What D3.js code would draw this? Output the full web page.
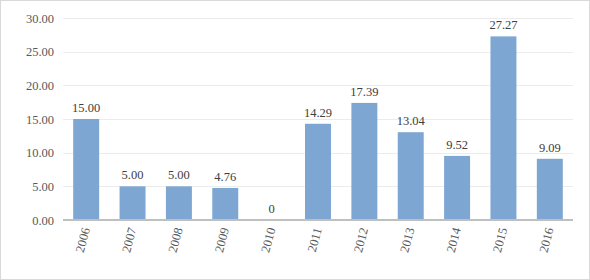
<!DOCTYPE html>
<html><head><meta charset="utf-8">
<script src="https://cdn.jsdelivr.net/npm/d3@7"></script>
<style>
html,body{margin:0;padding:0;background:#fff;}
svg{display:block;}
</style></head>
<body>
<svg id="chart" width="590" height="280"></svg>
<script>
const categories = ["2006","2007","2008","2009","2010","2011","2012","2013","2014","2015","2016"];
const values = [15.00,5.00,5.00,4.76,0,14.29,17.39,13.04,9.52,27.27,9.09];
const valueLabels = ["15.00","5.00","5.00","4.76","0","14.29","17.39","13.04","9.52","27.27","9.09"];
const yTicks = [0,5,10,15,20,25,30];

const svg = d3.select("#chart");
const W = 590, H = 280;
const m = {left: 63, right: 17, top: 18, bottom: 60};
const font = "'Liberation Serif','Times New Roman',serif";

svg.append("rect").attr("x",0.5).attr("y",0.5).attr("width",W-1).attr("height",H-1)
  .attr("fill","#fff").attr("stroke","#d9d9d9");

const x = d3.scaleBand().domain(categories).range([m.left, W-m.right]).paddingInner(0.44).paddingOuter(0.22);
const y = d3.scaleLinear().domain([0,30]).range([H-m.bottom, m.top]);

// gridlines
svg.append("g").selectAll("line").data(yTicks.filter(d=>d>0)).join("line")
  .attr("x1",m.left).attr("x2",W-m.right)
  .attr("y1",d=>Math.round(y(d))+0.5).attr("y2",d=>Math.round(y(d))+0.5)
  .attr("stroke","#ececec").attr("stroke-width",1);

// y axis labels
const yAxis = d3.axisLeft(y).tickValues(yTicks).tickFormat(d3.format(".2f")).tickSize(0).tickPadding(9);
const yg = svg.append("g").attr("transform",`translate(${m.left},0)`).call(yAxis);
yg.select(".domain").remove();
yg.selectAll("text").attr("font-family",font).attr("font-size",12.5).attr("fill","#595959");

// bars
svg.append("g").selectAll("rect").data(values).join("rect")
  .attr("x",(d,i)=>x(categories[i])).attr("width",x.bandwidth())
  .attr("y",d=>y(d)).attr("height",d=>y(0)-y(d))
  .attr("fill","#7ea6d3");

// value labels
svg.append("g").selectAll("text").data(values).join("text")
  .attr("x",(d,i)=>x(categories[i])+x.bandwidth()/2)
  .attr("y",d=>y(d)-7)
  .attr("text-anchor","middle")
  .attr("font-family",font).attr("font-size",12.5).attr("fill","#404040")
  .text((d,i)=>valueLabels[i]);

// x axis
const xAxis = d3.axisBottom(x).tickSize(0).tickPadding(0);
const xg = svg.append("g").attr("transform",`translate(0,${y(0)})`).call(xAxis);
xg.select(".domain").attr("stroke","#bfbfbf").attr("stroke-width",2).attr("d",`M${m.left},0H${W-m.right}`);
xg.selectAll("text")
  .attr("font-family",font).attr("font-size",12.5).attr("fill","#595959")
  .attr("text-anchor","end").attr("dy","0.32em")
  .attr("transform","translate(0,8) rotate(-75)");
</script>
</body></html>
